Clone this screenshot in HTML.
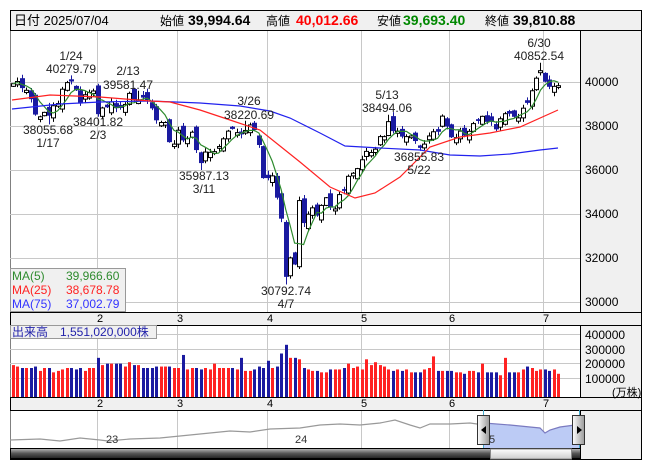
<!DOCTYPE html>
<html><head><meta charset="utf-8">
<style>
html,body{margin:0;padding:0;background:#fff;}
body{width:653px;height:470px;overflow:hidden;font-family:"Liberation Sans","Noto Sans CJK JP",sans-serif;}
svg{display:block}
</style></head>
<body>
<svg id="s" width="653" height="470" xmlns="http://www.w3.org/2000/svg" font-family="Liberation Sans, Noto Sans CJK JP, sans-serif">
<defs>
<linearGradient id="sb" x1="0" y1="0" x2="0" y2="1"><stop offset="0" stop-color="#bbb"/><stop offset="0.5" stop-color="#555"/><stop offset="1" stop-color="#222"/></linearGradient>
<linearGradient id="th" x1="0" y1="0" x2="0" y2="1"><stop offset="0" stop-color="#fff"/><stop offset="1" stop-color="#ccc"/></linearGradient>
<linearGradient id="hd" x1="0" y1="0" x2="1" y2="0"><stop offset="0" stop-color="#fff"/><stop offset="1" stop-color="#999"/></linearGradient>
</defs>
<rect x="10.5" y="10.5" width="631" height="449" fill="#f0f0f0" stroke="#000"/>
<rect x="10.5" y="30.5" width="570" height="282" fill="#fff"/>
<rect x="10.5" y="325.5" width="570" height="72" fill="#fff"/>
<rect x="10.5" y="410.5" width="570" height="38" fill="#fff"/>
<g id="grid" stroke="#c8c8c8" stroke-width="1"></g>
<g id="plot"></g>
<g stroke="#000" fill="none">
<line x1="10" y1="30.5" x2="641" y2="30.5"/>
<line x1="10" y1="312.5" x2="641" y2="312.5"/>
<line x1="10" y1="325.5" x2="641" y2="325.5"/>
<line x1="10" y1="397.5" x2="641" y2="397.5"/>
<line x1="10" y1="410.5" x2="641" y2="410.5"/>
<line x1="580.5" y1="30" x2="580.5" y2="312"/>
<line x1="580.5" y1="325" x2="580.5" y2="397"/>
<line x1="580.5" y1="410" x2="580.5" y2="459"/>
</g>
<g font-size="13" fill="#000">
<text x="14" y="25">日付 2025/07/04</text>
<text x="160" y="25" font-size="12">始値</text>
<text x="188" y="25" font-weight="bold" font-size="14">39,994.64</text>
<text x="266" y="25" font-size="12">高値</text>
<text x="296" y="25" font-weight="bold" font-size="14" fill="#f00">40,012.66</text>
<text x="377" y="25" font-size="12">安値</text>
<text x="403" y="25" font-weight="bold" font-size="14" fill="#080">39,693.40</text>
<text x="485" y="25" font-size="12">終値</text>
<text x="513" y="25" font-weight="bold" font-size="14">39,810.88</text>
</g>
<g font-size="12" fill="#000">
<text x="585" y="86">40000</text><text x="585" y="130">38000</text><text x="585" y="174">36000</text>
<text x="585" y="218">34000</text><text x="585" y="262">32000</text><text x="585" y="306">30000</text>
<text x="585" y="339">400000</text><text x="585" y="354">300000</text><text x="585" y="368">200000</text><text x="585" y="383">100000</text>
<text x="612" y="396" font-size="11">(万株)</text>
</g>
<g font-size="11" fill="#000" id="months"></g>
<rect x="10.5" y="268.5" width="115" height="43" fill="#f0f0f0" stroke="#999"/>
<g font-size="12">
<text x="12" y="280" fill="#2e8b2e">MA(5)</text><text x="66" y="280" fill="#2e8b2e">39,966.60</text>
<text x="12" y="294" fill="#f22">MA(25)</text><text x="66" y="294" fill="#f22">38,678.78</text>
<text x="12" y="308" fill="#33f">MA(75)</text><text x="66" y="308" fill="#33f">37,002.79</text>
</g>
<rect x="10.5" y="325.5" width="146" height="13" fill="#f0f0f0" stroke="#999"/>
<text x="12" y="336" font-size="12" fill="#22a">出来高　1,551,020,000株</text>
<g font-size="12" fill="#222" text-anchor="middle">
<text x="71" y="60">1/24</text><text x="71" y="73">40279.79</text>
<text x="128" y="75">2/13</text><text x="128" y="89">39581.47</text>
<text x="48" y="134">38055.68</text><text x="48" y="147">1/17</text>
<text x="98" y="126">38401.82</text><text x="98" y="139">2/3</text>
<text x="204" y="180">35987.13</text><text x="204" y="193">3/11</text>
<text x="249" y="105">3/26</text><text x="249" y="119">38220.69</text>
<text x="387" y="99">5/13</text><text x="387" y="112">38494.06</text>
<text x="419" y="161">36855.83</text><text x="419" y="174">5/22</text>
<text x="539" y="47">6/30</text><text x="539" y="60">40852.54</text>
<text x="286" y="295">30792.74</text><text x="286" y="308">4/7</text>
</g>
<path d="M10,440 L40,439 L60,441 L80,438 L100,440 L108,441 L130,439 L160,438 L180,436 L200,434 L230,431 L250,432 L270,429 L300,428 L320,425 L340,424 L360,425 L380,423 L395,420 L410,425 L420,428 L430,424 L450,424 L470,423 L484,425" fill="none" stroke="#999" stroke-width="1.2"/>
<path d="M484,423 L510,425 L530,427 L540,428 L545,433 L550,430 L560,427 L575,425 L579,425 L579,448 L484,448 Z" fill="#bccbf5" stroke="none"/>
<path d="M484,423 L510,425 L530,427 L540,428 L545,433 L550,430 L560,427 L575,425 L579,425" fill="none" stroke="#7a7ac0" stroke-width="1.2"/>
<line x1="483.5" y1="410" x2="483.5" y2="459" stroke="#4ac" />
<line x1="579.5" y1="410" x2="579.5" y2="459" stroke="#4ac" />
<g font-size="11" fill="#333"><text x="106" y="443">23</text><text x="295" y="443">24</text><text x="489" y="443">5</text></g>
<rect x="10.5" y="448.5" width="570" height="10" fill="url(#sb)" stroke="#000"/>
<rect x="490.5" y="449" width="81" height="10" fill="url(#th)" stroke="#888"/>
<rect x="477.5" y="415.5" width="12" height="29" fill="url(#hd)" stroke="#333"/>
<path d="M486,426 L481,430 L486,434 Z" fill="#000"/>
<rect x="572.5" y="415.5" width="12" height="29" fill="url(#hd)" stroke="#333"/>
<path d="M577,426 L582,430 L577,434 Z" fill="#000"/>
</svg>
<script>
(function(){
var NS="http://www.w3.org/2000/svg";
function el(p,t,a){var e=document.createElementNS(NS,t);for(var k in a)e.setAttribute(k,a[k]);p.appendChild(e);return e;}
var grid=document.getElementById('grid'),plot=document.getElementById('plot'),months=document.getElementById('months');
var gx=[97,177,267,361,449,543],ml=["2","3","4","5","6","7"];
function Y(p){return 81.5+(40000-p)*0.02205;}
[40000,38000,36000,34000,32000,30000].forEach(function(p){var y=Math.round(Y(p))+0.5;el(grid,'line',{x1:10,x2:580,y1:y,y2:y});});
[334.5,349.5,363.5,378.5].forEach(function(y){el(grid,'line',{x1:10,x2:580,y1:y,y2:y});});
gx.forEach(function(x,i){
 el(grid,'line',{x1:x+.5,x2:x+.5,y1:31,y2:312});
 el(grid,'line',{x1:x+.5,x2:x+.5,y1:326,y2:397});
 el(grid,'line',{x1:x+.5,x2:x+.5,y1:411,y2:448});
 [322,407].forEach(function(y){var t=el(months,'text',{x:x,y:y});t.textContent=ml[i];});
});
var C=[39900,40000,39700,39600,39200,38500,38400,38600,38450,38900,39000,39650,39950,40000,39600,39000,39400,39500,39570,
38520,38800,38830,39070,38790,38800,38960,39460,39150,39170,39270,39160,38780,38240,38140,38140,37250,37160,
37790,37330,37420,37700,36890,36300,36800,36790,36820,37050,37400,37750,37850,37680,37600,37780,38030,37800,37120,35620,
35620,35720,34730,33780,31140,32000,31700,34600,33580,33980,34270,33920,34380,34730,34280,34220,34870,35040,35700,35840,36050,
36450,36830,36780,36930,37500,37500,38180,37750,37750,37500,37500,37530,37300,36990,37160,37530,37720,37720,38430,37960,
37470,37450,37750,37550,37740,38090,38210,38420,38170,38170,37830,38310,38540,38540,38400,38350,38790,39030,39580,40150,40490,
39990,39760,39780,39810];
var V=[22,21,20,20,20,21,18,20,20,17,18,19,20,20,19,20,18,20,20,
27,22,23,23,23,23,21,24,22,22,20,20,20,21,21,21,21,20,
20,29,19,20,20,19,20,19,23,20,20,20,20,19,27,18,18,19,21,20,
25,20,21,30,36,27,27,26,20,19,18,18,17,17,19,19,19,20,23,20,21,
19,26,22,24,22,21,19,18,19,18,19,17,17,17,19,20,28,18,18,18,
18,17,17,16,18,18,17,23,17,17,17,15,27,17,17,17,19,21,20,18,19,
19,18,19,16];
var ex={8:[null,38055],13:[40280,null],19:[null,38402],28:[39581,null],42:[null,35987],52:[38220,null],61:[null,30793],84:[38494,null],91:[null,36856],118:[40852,null]};
var prev=40100;
for(var i=0;i<C.length;i++){
 var x=13+i*4.47,c=C[i];
 var o=prev+(((i*37)%11)-5)*50;
 if(Math.abs(o-c)<80)o=c+((i%2)?120:-120);
 var h=Math.max(o,c)+((i*13)%7)*25+30,l=Math.min(o,c)-((i*17)%7)*25-30;
 if(ex[i]){if(ex[i][0])h=ex[i][0];if(ex[i][1])l=ex[i][1];}
 var up=c>=o,col=up?'#000':'#1a1aa0';
 var xc=Math.round(x)+0.5;
 el(plot,'line',{x1:xc,x2:xc,y1:Y(h),y2:Y(l),stroke:col,'stroke-width':1});
 var t=Y(Math.max(o,c)),b=Y(Math.min(o,c));if(b-t<1)b=t+1;
 if(up)el(plot,'rect',{x:xc-2,y:t,width:4,height:b-t,fill:'#fff',stroke:'#000','stroke-width':1});
 else el(plot,'rect',{x:xc-2.5,y:t,width:5,height:b-t,fill:'#1a1aa0'});
 var vh=V[i]*1.45;
 el(plot,'rect',{x:Math.round(x)-1,y:397-vh,width:3,height:vh,fill:up?'#f22':'#1a1aa0'});
 prev=c;
}
var d="";
for(var i=0;i<C.length;i++){var s=0,n=0;for(var j=Math.max(0,i-4);j<=i;j++){s+=C[j];n++;}d+=(i?"L":"M")+(13+i*4.47).toFixed(1)+","+Y(s/n).toFixed(1);}
el(plot,'path',{d:d,fill:'none',stroke:'#2e8b2e','stroke-width':1.2});
function pl(pts,col){var d=pts.map(function(p,i){return (i?"L":"M")+p[0]+","+p[1];}).join("");el(plot,'path',{d:d,fill:'none',stroke:col,'stroke-width':1.2});}
pl([[12,109],[60,104],[100,102],[150,101],[200,103],[240,106],[270,111],[290,118],[320,133],[345,146],[380,148],[420,150],[450,155],[480,156],[510,154],[540,150],[558,148]],'#22e');
pl([[12,100],[50,95],[100,97],[150,101],[170,102],[200,110],[230,120],[260,130],[280,146],[300,162],[330,187],[355,198],[375,193],[400,177],[430,147],[460,137],[490,133],[520,127],[558,110]],'#f22');
})();
</script>
</body></html>
